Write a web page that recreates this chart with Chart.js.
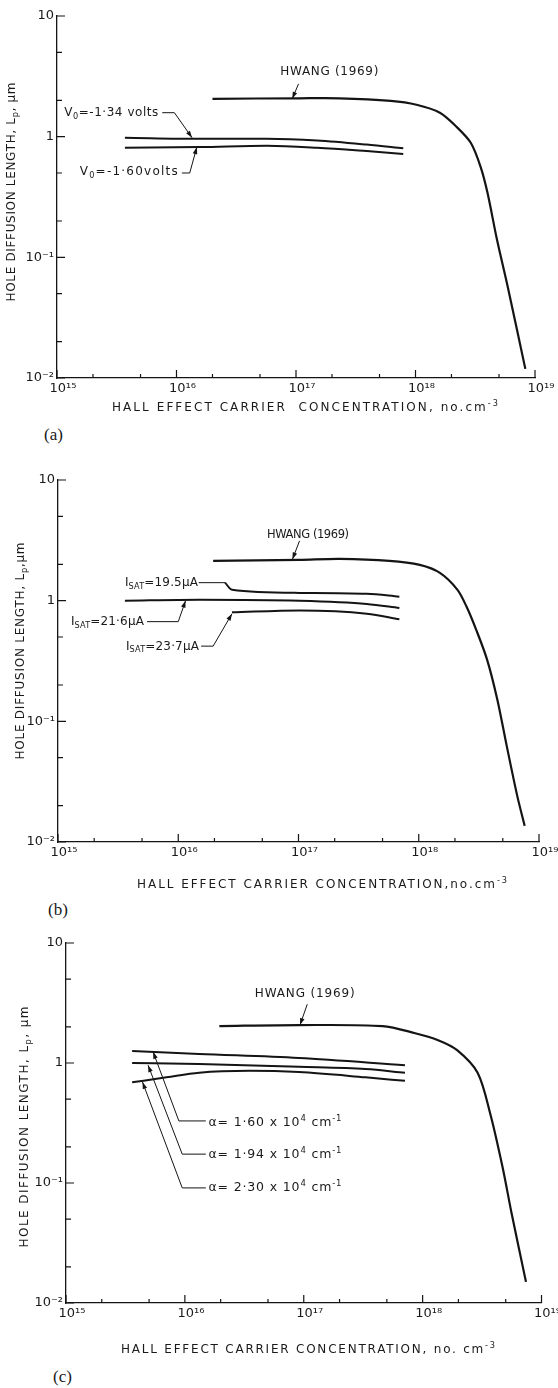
<!DOCTYPE html>
<html>
<head>
<meta charset="utf-8">
<script src="https://cdn.jsdelivr.net/npm/chart.js@4.4.1/dist/chart.umd.min.js"></script>
<style>
  body { margin: 0; background: #fff; }
  #page { position: relative; width: 558px; height: 1388px; overflow: hidden; }
  canvas { position: absolute; left: 0; }
  .tag { position: absolute; font: 17px "Liberation Serif", serif; color: #1a1a1a; }
</style>
</head>
<body>
<div id="page">
  <canvas id="chartA" width="558" height="425" style="top:0px"></canvas>
  <canvas id="chartB" width="558" height="445" style="top:455px"></canvas>
  <canvas id="chartC" width="558" height="445" style="top:920px"></canvas>
  <div class="tag" style="left:44px;top:425px">(a)</div>
  <div class="tag" style="left:48px;top:900px">(b)</div>
  <div class="tag" style="left:53px;top:1367px">(c)</div>
</div>
<script>
const xTicks = [1e15, 2e15, 5e15, 1e16, 2e16, 5e16, 1e17, 2e17, 5e17, 1e18, 2e18, 5e18, 1e19]
const xTickLabels = { 15: '10¹⁵', 16: '10¹⁶', 17: '10¹⁷', 18: '10¹⁸', 19: '10¹⁹' }
const yTicks = [0.01, 0.02, 0.05, 0.1, 0.2, 0.5, 1, 2, 5, 10]
const yTickLabels = { '-2': '10⁻²', '-1': '10⁻¹', 0: '1', 1: '10' }

// (a)
const hwangA_x = [2.0e16, 1.07e17, 2.3e17, 6.2e17, 1.02e18, 1.6e18, 2.2e18, 2.9e18, 3.5e18, 4.0e18, 4.8e18, 5.9e18, 8.3e18]
const hwangA_y = [2.06, 2.08, 2.08, 1.98, 1.84, 1.58, 1.21, 0.89, 0.565, 0.344, 0.141, 0.0575, 0.0119]
const v134_x = [3.7e15, 1.58e16, 5.7e16, 1.5e17, 3.9e17, 7.9e17]
const v134_y = [0.98, 0.96, 0.96, 0.93, 0.86, 0.80]
const v160_x = [3.7e15, 1.58e16, 5.7e16, 1.5e17, 3.9e17, 7.9e17]
const v160_y = [0.81, 0.82, 0.84, 0.81, 0.76, 0.72]

// (b)
const hwangB_x = [1.95e16, 1.02e17, 2.2e17, 5.7e17, 1.02e18, 1.5e18, 2.1e18, 2.5e18, 3.0e18, 3.7e18, 4.5e18, 5.4e18, 6.6e18, 7.6e18]
const hwangB_y = [2.14, 2.18, 2.22, 2.14, 1.98, 1.70, 1.23, 0.89, 0.576, 0.325, 0.152, 0.062, 0.024, 0.0136]
const isat195_x = [2.45e16, 2.8e16, 1.02e17, 3.7e17, 6.9e17]
const isat195_y = [1.41, 1.23, 1.16, 1.14, 1.08]
const isat216_x = [3.6e15, 1.5e16, 1.02e17, 3.7e17, 6.9e17]
const isat216_y = [1.0, 1.02, 1.0, 0.94, 0.87]
const isat237_x = [2.8e16, 1.02e17, 3.7e17, 6.9e17]
const isat237_y = [0.80, 0.83, 0.78, 0.70]

// (c)
const hwangC_x = [1.95e16, 9.1e16, 4.6e17, 8.5e17, 1.35e18, 1.95e18, 2.9e18, 3.7e18, 4.7e18, 5.6e18, 7.4e18]
const hwangC_y = [2.03, 2.07, 2.03, 1.78, 1.55, 1.28, 0.83, 0.38, 0.136, 0.056, 0.015]
const alpha160_x = [3.6e15, 1.32e16, 9.1e16, 7.1e17]
const alpha160_y = [1.26, 1.19, 1.10, 0.96]
const alpha194_x = [3.6e15, 1.32e16, 9.1e16, 3.3e17, 7.1e17]
const alpha194_y = [1.0, 0.98, 0.93, 0.89, 0.83]
const alpha230_x = [3.6e15, 7.0e15, 1.32e16, 3.5e16, 9.1e16, 3.3e17, 7.1e17]
const alpha230_y = [0.69, 0.76, 0.83, 0.86, 0.84, 0.76, 0.71]

const FONT = 'DejaVu Sans'
const INK = '#141414'

function isPow(v) {
  const l = Math.log10(v)
  return Math.abs(l - Math.round(l)) < 1e-6
}

function series(xs, ys, smooth) {
  let ds = {
    data: xs.map((x, i) => ({ x: x, y: ys[i] })),
    borderColor: INK,
    borderWidth: 2,
    pointRadius: 0,
    fill: false,
    cubicInterpolationMode: 'monotone'
  }
  if (smooth) {
    ds.cubicInterpolationMode = 'default'
    ds.tension = 0.3
    ds.borderWidth = 2.2
  }
  return ds
}

function rich(ctx, parts, x, y, o) {
  const size = o.size || 11
  const fnt = m => (m ? size * 0.68 : size) + 'px "' + FONT + '"'
  let raw = 0
  let n = 0
  for (const [t, m] of parts) {
    ctx.font = fnt(m)
    ctx.letterSpacing = '0px'
    raw += ctx.measureText(t).width
    n += [...t].length
  }
  let sp = o.width ? (o.width - raw) / Math.max(1, n - 1) : (o.spacing || 0)
  let w = raw + sp * (n - 1)
  ctx.save()
  ctx.translate(x, y)
  if (o.rotate) ctx.rotate(o.rotate)
  ctx.fillStyle = '#1a1a1a'
  ctx.textBaseline = 'middle'
  ctx.textAlign = 'left'
  let cx = o.align === 'center' ? -w / 2 : 0
  for (const [t, m] of parts) {
    ctx.font = fnt(m)
    let dy = m === 'sub' ? size * 0.32 : (m === 'sup' ? -size * 0.36 : 0)
    ctx.letterSpacing = sp + 'px'
    ctx.fillText(t, cx, dy)
    ctx.letterSpacing = '0px'
    cx += ctx.measureText(t).width + sp * [...t].length
  }
  ctx.restore()
}

function leader(ctx, pts, arrow) {
  ctx.save()
  ctx.strokeStyle = INK
  ctx.fillStyle = INK
  ctx.lineWidth = 1
  ctx.beginPath()
  pts.forEach((p, i) => i ? ctx.lineTo(p[0], p[1]) : ctx.moveTo(p[0], p[1]))
  ctx.stroke()
  if (arrow) {
    let a = pts[pts.length - 2]
    let b = pts[pts.length - 1]
    let ang = Math.atan2(b[1] - a[1], b[0] - a[0])
    ctx.beginPath()
    ctx.moveTo(b[0], b[1])
    ctx.lineTo(b[0] - 7 * Math.cos(ang) + 2.3 * Math.sin(ang), b[1] - 7 * Math.sin(ang) - 2.3 * Math.cos(ang))
    ctx.lineTo(b[0] - 7 * Math.cos(ang) - 2.3 * Math.sin(ang), b[1] - 7 * Math.sin(ang) + 2.3 * Math.cos(ang))
    ctx.closePath()
    ctx.fill()
  }
  ctx.restore()
}

function extras(notes, lines, titles) {
  return {
    id: 'extras',
    afterDraw(chart) {
      const ctx = chart.ctx
      const sx = chart.scales.x
      const sy = chart.scales.y
      const area = chart.chartArea
      ctx.save()
      ctx.strokeStyle = INK
      ctx.lineWidth = 1.2
      ctx.beginPath()
      for (const t of sx.ticks) {
        let p = sx.getPixelForValue(t.value)
        let L = isPow(t.value) ? 8 : 4
        ctx.moveTo(p, area.bottom)
        ctx.lineTo(p, area.bottom - L)
      }
      for (const t of sy.ticks) {
        let p = sy.getPixelForValue(t.value)
        let L = isPow(t.value) ? 8 : 5
        ctx.moveTo(area.left, p)
        ctx.lineTo(area.left + L, p)
      }
      ctx.stroke()
      ctx.restore()

      for (const l of lines) {
        leader(ctx, l.pts.map(p => [sx.getPixelForValue(p[0]), sy.getPixelForValue(p[1])]), l.arrow)
      }
      for (const nt of notes) {
        rich(ctx, nt.parts, sx.getPixelForValue(nt.at[0]), sy.getPixelForValue(nt.at[1]), nt)
      }
      rich(ctx, titles.x.parts, titles.x.cx, titles.x.cy, { width: titles.x.width, align: 'center', size: 12 })
      rich(ctx, titles.y.parts, titles.y.cx, titles.y.cy, { width: titles.y.width, align: 'center', size: 12, rotate: -Math.PI / 2 })
    }
  }
}

function makeChart(id, datasets, box, notes, lines, titles) {
  const el = document.getElementById(id)
  return new Chart(el.getContext('2d'), {
    type: 'line',
    data: { datasets: datasets },
    options: {
      responsive: false,
      animation: false,
      layout: { padding: { top: box.top, right: 558 - box.right, left: 0, bottom: 0 } },
      plugins: { legend: { display: false }, tooltip: { enabled: false } },
      scales: {
        x: {
          type: 'logarithmic',
          min: 1e15,
          max: 1e19,
          afterFit: s => { s.height = el.height - box.bottom },
          afterBuildTicks: s => { s.ticks = xTicks.map(v => ({ value: v })) },
          grid: { display: false, drawTicks: false },
          border: { display: true, color: INK, width: 1.3 },
          ticks: {
            autoSkip: false, maxRotation: 0, minRotation: 0, padding: 3, labelOffset: 6,
            color: '#1a1a1a', font: { family: FONT, size: 13 },
            callback: v => isPow(v) ? xTickLabels[Math.round(Math.log10(v))] : ''
          }
        },
        y: {
          type: 'logarithmic',
          min: 0.01,
          max: 10,
          afterFit: s => { s.width = box.left },
          afterBuildTicks: s => { s.ticks = yTicks.map(v => ({ value: v })) },
          grid: { display: false, drawTicks: false },
          border: { display: true, color: INK, width: 1.3 },
          ticks: {
            autoSkip: false, padding: 3,
            color: '#1a1a1a', font: { family: FONT, size: 13 },
            callback: v => isPow(v) ? yTickLabels[Math.round(Math.log10(v))] : ''
          }
        }
      }
    },
    plugins: [extras(notes, lines, titles)]
  })
}

makeChart('chartA',
  [series(hwangA_x, hwangA_y, true), series(v134_x, v134_y), series(v160_x, v160_y)],
  { top: 16, bottom: 378, left: 57, right: 535 },
  [
    { parts: [['HWANG (1969)']], at: [1.9e17, 3.44], align: 'center', width: 98, size: 12 },
    { parts: [['V'], ['0', 'sub'], ['=-1·34 volts']], at: [1.15e15, 1.58], width: 94, size: 12 },
    { parts: [['V'], ['0', 'sub'], ['=-1·60volts']], at: [1.55e15, 0.514], width: 98, size: 12 }
  ],
  [
    { pts: [[1.05e17, 2.74], [9.3e16, 2.06]], arrow: true },
    { pts: [[7.6e15, 1.58], [9.6e15, 1.58], [1.35e16, 0.98]], arrow: true },
    { pts: [[1.11e16, 0.50], [1.29e16, 0.50], [1.48e16, 0.82]], arrow: true }
  ],
  {
    x: { parts: [['HALL EFFECT CARRIER  CONCENTRATION, no.cm'], ['-3', 'sup']], cx: 305, cy: 408, width: 386 },
    y: { parts: [['HOLE DIFFUSION LENGTH, L'], ['p', 'sub'], [', μm']], cx: 12, cy: 192, width: 219 }
  })

makeChart('chartB',
  [series(hwangB_x, hwangB_y, true), series(isat195_x, isat195_y), series(isat216_x, isat216_y), series(isat237_x, isat237_y)],
  { top: 25, bottom: 387, left: 58, right: 539 },
  [
    { parts: [['HWANG (1969)']], at: [1.2e17, 3.5], align: 'center', width: 82, size: 11.5 },
    { parts: [['I'], ['SAT', 'sub'], ['=19.5μA']], at: [3.6e15, 1.41], width: 73, size: 12 },
    { parts: [['I'], ['SAT', 'sub'], ['=21·6μA']], at: [1.28e15, 0.67], width: 73, size: 12 },
    { parts: [['I'], ['SAT', 'sub'], ['=23·7μA']], at: [3.67e15, 0.417], width: 73, size: 12 }
  ],
  [
    { pts: [[1.02e17, 3.13], [8.9e16, 2.2]], arrow: true },
    { pts: [[1.48e16, 1.41], [2.45e16, 1.41]], arrow: false },
    { pts: [[5.5e15, 0.67], [1.0e16, 0.67], [1.15e16, 1.0]], arrow: true },
    { pts: [[1.55e16, 0.42], [1.95e16, 0.42], [2.8e16, 0.78]], arrow: true }
  ],
  {
    x: { parts: [['HALL EFFECT CARRIER CONCENTRATION,no.cm'], ['-3', 'sup']], cx: 322, cy: 430, width: 370 },
    y: { parts: [['HOLE DIFFUSION LENGTH, L'], ['p', 'sub'], [',μm']], cx: 21, cy: 196, width: 217 }
  })

makeChart('chartC',
  [series(hwangC_x, hwangC_y, true), series(alpha160_x, alpha160_y), series(alpha194_x, alpha194_y), series(alpha230_x, alpha230_y)],
  { top: 23, bottom: 383, left: 66, right: 543 },
  [
    { parts: [['HWANG (1969)']], at: [1.02e17, 3.76], align: 'center', width: 100, size: 12 },
    { parts: [['α= 1·60 x 10'], ['4', 'sup'], [' cm'], ['-1', 'sup']], at: [1.58e16, 0.316], width: 133, size: 12.5 },
    { parts: [['α= 1·94 x 10'], ['4', 'sup'], [' cm'], ['-1', 'sup']], at: [1.58e16, 0.171], width: 133, size: 12.5 },
    { parts: [['α= 2·30 x 10'], ['4', 'sup'], [' cm'], ['-1', 'sup']], at: [1.58e16, 0.091], width: 133, size: 12.5 }
  ],
  [
    { pts: [[1.07e17, 3.09], [9.3e16, 2.07]], arrow: true },
    { pts: [[1.5e16, 0.329], [8.9e15, 0.329], [5.4e15, 1.24]], arrow: true },
    { pts: [[1.5e16, 0.174], [9.5e15, 0.174], [4.9e15, 0.96]], arrow: true },
    { pts: [[1.5e16, 0.091], [9.5e15, 0.091], [4.4e15, 0.695]], arrow: true }
  ],
  {
    x: { parts: [['HALL EFFECT CARRIER CONCENTRATION, no. cm'], ['-3', 'sup']], cx: 308, cy: 430, width: 374 },
    y: { parts: [['HOLE DIFFUSION LENGTH, L'], ['p', 'sub'], [', μm']], cx: 25, cy: 207, width: 241 }
  })
</script>
</body>
</html>
